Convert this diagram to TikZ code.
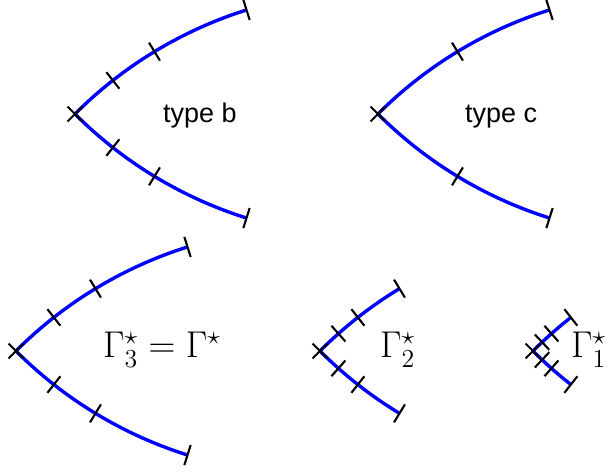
\RequirePackage{fix-cm}
\documentclass[tikz,border=0pt]{standalone}
\usepackage{graphicx}
\usepackage{fontspec}
\newfontfamily\labelsans{Liberation Sans}
\usetikzlibrary{calc}
\tikzset{
  arm/.style={draw=blue, line width=3.4pt},
  tickmark/.style={draw=black, line width=2.1pt},
  typelabel/.style={anchor=base west, inner sep=0pt, font=\labelsans\fontsize{27}{31}\selectfont},
  mathlabel/.style={anchor=base west, inner sep=0pt, font=\fontsize{20.74}{25}\selectfont},
}
\newcommand\mathbig[1]{\scalebox{1.8}{$#1$}}
\newcommand\R{422}
\newcommand\wedgefig[4]{%
  \coordinate (#1) at #2;
  \coordinate (#1u) at ($(#1)+(-45:\R)$);
  \coordinate (#1l) at ($(#1)+(45:\R)$);
  \draw[arm] (#1) arc[start angle=135,end angle={135-#3},radius=\R];
  \draw[arm] (#1) arc[start angle=-135,end angle={-135+#3},radius=\R];
  \foreach \a in {0,#4,#3} {
    \draw[tickmark] ($(#1u)+({135-\a}:{\R-10.5})$) -- ($(#1u)+({135-\a}:{\R+10.5})$);
    \draw[tickmark] ($(#1l)+({-135+\a}:{\R-10.5})$) -- ($(#1l)+({-135+\a}:{\R+10.5})$);
  }%
}
\begin{document}
\begin{tikzpicture}[x=1pt,y=1pt]
  \useasboundingbox (0,0) rectangle (610,473);
  \clip (0,0) rectangle (610,473);
  \wedgefig{b}{(75,359)}{27.5}{6.875,13.75}
  \wedgefig{c}{(378,359)}{27.5}{13.75}
  \wedgefig{g3}{(16,122)}{27.5}{6.875,13.75}
  \wedgefig{g2}{(320,122)}{13.75}{3.4375,6.875}
  \wedgefig{g1}{(533,122)}{6.875}{1.71875,3.4375}
  \node[typelabel] (tb) at (163,350) {type b};
  \node[typelabel] (tc) at (465,350) {type c};
  \node[mathlabel] (l3) at (103,115) {\mathbig{\Gamma^\star_3=\Gamma^\star}};
  \node[mathlabel] (l2) at (380,115) {\mathbig{\Gamma^\star_2}};
  \node[mathlabel] (l1) at (571,115) {\mathbig{\Gamma^\star_1}};
\end{tikzpicture}
\end{document}
